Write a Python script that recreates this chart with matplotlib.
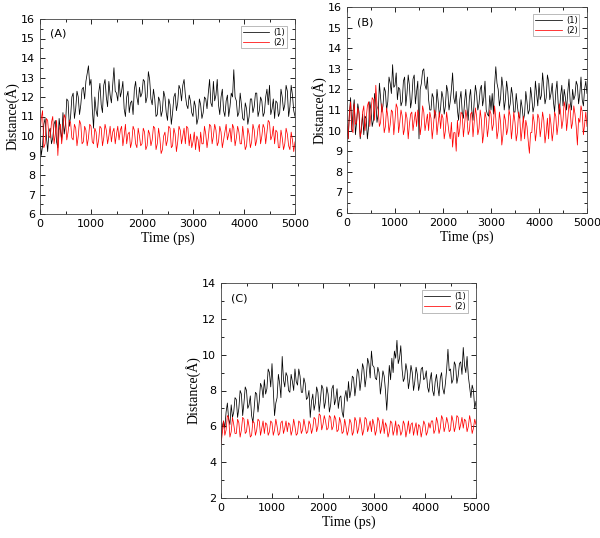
import numpy as np
import matplotlib
matplotlib.use("Agg")
import matplotlib.pyplot as plt
from matplotlib.ticker import MultipleLocator

# readings every 50 ps, plus a second set read half way between them
time_ps = np.arange(0, 5001, 50)
time_mid = np.arange(25, 5000, 50)

# panel (A)
a_1 = [10.0, 9.5, 10.9, 9.2, 10.4, 9.9, 10.8, 9.4, 10.3, 11.2,
       10.6, 11.8, 11.0, 12.2, 11.4, 12.0, 11.6, 12.5, 12.8, 13.6,
       12.9, 10.4, 11.3, 12.2, 11.6, 12.6, 12.0, 12.8, 11.7, 13.5,
       12.2, 12.9, 12.3, 11.4, 12.0, 11.2, 11.8, 12.4, 12.0, 12.5,
       12.2, 12.8, 12.0, 12.9, 11.6, 11.9, 11.1, 11.8, 11.3, 12.0,
       10.8, 11.6, 11.2, 12.2, 11.7, 12.4, 12.6, 12.1, 11.4, 11.8,
       11.0, 11.5, 10.9, 11.6, 11.2, 11.9, 12.2, 11.7, 12.8, 12.1,
       11.6, 12.0, 11.3, 11.8, 11.0, 12.2, 13.4, 11.8, 11.2, 11.6,
       10.8, 11.4, 11.0, 11.9, 11.5, 12.2, 11.3, 11.8, 11.2, 12.4,
       12.6, 11.4, 10.9, 11.7, 11.2, 12.0, 11.6, 12.3, 11.5, 12.1,
       11.0]
a_1_mid = [9.0, 10.6, 10.0, 10.2, 9.6, 10.6, 9.7, 10.9, 9.8, 10.1,
           11.9, 10.5, 12.0, 10.9, 12.3, 11.1, 12.4, 11.9, 13.2, 12.6,
           11.4, 12.0, 11.0, 12.7, 11.2, 12.9, 11.5, 12.1, 12.6, 12.3,
           11.8, 12.0, 12.8, 11.0, 12.3, 11.7, 11.1, 12.8, 11.6, 12.0,
           12.9, 11.7, 13.3, 11.9, 12.4, 11.0, 12.0, 11.0, 12.3, 11.2,
           11.9, 10.6, 12.0, 11.3, 12.6, 11.8, 12.9, 11.6, 12.1, 11.2,
           11.8, 10.6, 11.9, 10.9, 12.0, 11.4, 12.9, 11.5, 11.8, 12.9,
           11.1, 12.4, 11.0, 12.1, 11.5, 12.0, 12.0, 11.0, 12.2, 10.9,
           11.7, 10.6, 11.9, 11.2, 12.2, 11.0, 12.0, 11.0, 12.0, 11.6,
           11.1, 11.9, 11.8, 11.0, 12.4, 11.3, 12.6, 11.0, 12.6, 11.3]
a_2 = [10.2, 11.3, 9.6, 10.8, 9.9, 11.0, 10.1, 9.0, 10.6, 10.3,
       10.9, 10.2, 10.7, 9.8, 10.4, 10.0, 10.6, 9.7, 10.3, 9.9,
       10.5, 9.6, 10.2, 9.8, 10.4, 9.9, 10.3, 10.0, 9.7, 10.4,
       10.1, 9.8, 10.5, 10.0, 9.6, 10.2, 9.7, 10.3, 9.4, 10.0,
       9.6, 10.2, 9.5, 10.1, 9.8, 10.4, 9.6, 9.9, 9.3, 10.2,
       9.8, 10.4, 9.5, 10.1, 9.7, 10.3, 10.0, 9.6, 10.4, 10.1,
       9.7, 9.3, 9.8, 10.2, 9.6, 10.1, 9.9, 10.5, 10.0, 10.3,
       9.7, 10.2, 9.8, 10.6, 10.1, 9.7, 10.4, 9.9, 10.2, 9.6,
       9.9, 9.5, 10.1, 9.7, 10.3, 9.8, 10.6, 10.0, 10.4, 10.2,
       10.7, 10.0, 9.6, 10.2, 9.4, 9.9, 9.6, 10.1, 9.3, 9.8,
       9.7]
a_2_mid = [10.9, 9.4, 10.9, 10.0, 10.7, 9.6, 10.8, 10.3, 9.6, 11.1,
           9.8, 10.8, 9.9, 10.6, 9.5, 10.8, 9.6, 10.5, 9.5, 10.6,
           9.7, 10.4, 9.4, 10.5, 9.5, 10.6, 9.6, 10.5, 10.2, 9.6,
           10.5, 10.3, 9.5, 10.6, 10.1, 9.4, 10.5, 9.6, 10.4, 9.5,
           10.4, 9.3, 10.3, 9.5, 10.5, 9.3, 10.4, 9.1, 10.0, 9.5,
           10.5, 9.4, 10.4, 9.2, 10.5, 9.6, 10.4, 10.5, 9.5, 9.4,
           10.2, 10.0, 9.2, 9.6, 10.5, 9.4, 10.6, 9.6, 10.6, 9.5,
           10.5, 9.4, 10.2, 9.8, 10.4, 10.6, 9.5, 10.5, 9.6, 10.5,
           9.3, 10.4, 9.4, 10.6, 9.5, 10.4, 9.6, 10.6, 9.6, 10.8,
           9.8, 10.5, 10.3, 9.4, 10.3, 9.3, 10.4, 9.5, 10.2, 9.2]

# panel (B)
b_1 = [10.2, 10.8, 10.0, 11.5, 10.4, 10.9, 10.1, 9.8, 10.6, 10.2,
       11.0, 10.5, 11.4, 10.8, 11.6, 11.2, 11.9, 11.4, 12.3, 13.2,
       12.2, 11.5, 12.0, 11.4, 12.6, 11.8, 12.2, 11.5, 12.7, 11.9,
       9.6, 12.3, 13.0, 12.0, 11.5, 11.0, 11.6, 10.9, 11.4, 11.1,
       11.6, 11.2, 11.9, 11.4, 12.8, 11.3, 11.0, 11.5, 10.9, 11.4,
       11.1, 11.6, 11.0, 11.4, 11.8, 11.3, 12.2, 11.6, 11.0, 10.7,
       11.0, 10.8, 13.1, 12.0, 11.6, 12.1, 11.5, 11.9, 11.3, 11.7,
       10.9, 11.2, 10.6, 11.1, 10.8, 11.4, 11.0, 11.6, 11.2, 11.8,
       12.3, 11.7, 12.1, 11.6, 12.4, 11.8, 11.4, 11.9, 11.3, 11.7,
       11.2, 11.6, 11.9, 11.4, 12.0, 11.7, 12.2, 11.8, 11.5, 12.0,
       11.8]
b_1_mid = [9.6, 11.6, 10.9, 9.8, 11.3, 9.6, 10.8, 10.7, 9.6, 11.4,
           10.2, 11.8, 10.4, 12.3, 10.9, 12.1, 11.0, 12.6, 11.8, 12.1,
           12.8, 12.1, 11.2, 12.4, 11.2, 12.7, 11.1, 12.5, 11.3, 12.4,
           12.0, 12.9, 12.2, 12.6, 11.0, 11.8, 10.6, 12.0, 10.7, 11.9,
           10.8, 12.2, 11.0, 12.0, 11.6, 11.9, 10.5, 11.9, 10.6, 12.0,
           10.5, 12.0, 10.5, 12.2, 11.0, 12.0, 11.2, 12.4, 10.8, 11.7,
           11.8, 12.2, 12.3, 11.2, 12.6, 11.0, 12.4, 11.0, 12.1, 10.9,
           11.8, 10.7, 11.5, 10.5, 11.9, 10.8, 12.1, 10.9, 12.4, 11.2,
           11.5, 12.8, 11.3, 12.7, 11.5, 12.3, 10.9, 12.4, 10.8, 12.2,
           12.0, 11.0, 12.5, 11.0, 11.5, 12.4, 11.3, 12.6, 11.2, 12.4]
b_2 = [10.3, 10.9, 10.1, 11.3, 10.4, 10.8, 10.0, 11.2, 10.6, 11.4,
       10.9, 11.5, 12.2, 11.0, 10.4, 10.8, 10.2, 10.7, 10.3, 10.9,
       10.5, 11.1, 10.4, 10.7, 10.1, 10.6, 10.3, 10.9, 10.5, 10.2,
       10.7, 10.3, 10.9, 10.4, 10.0, 10.6, 10.2, 10.8, 10.4, 10.1,
       10.6, 10.0, 10.4, 9.6, 9.2, 9.9, 10.5, 10.1, 10.8, 10.3,
       10.6, 10.0, 10.9, 10.4, 10.7, 10.1, 10.5, 9.9, 10.6, 10.2,
       10.8, 10.3, 10.6, 10.0, 10.4, 9.8, 10.5, 10.1, 10.7, 10.2,
       10.4, 9.9, 10.6, 10.1, 9.6, 10.2, 8.9, 9.9, 10.4, 10.0,
       10.6, 10.2, 10.5, 9.9, 9.6, 10.3, 10.0, 10.7, 10.3, 10.9,
       10.5, 11.1, 10.6, 11.0, 10.4, 10.8, 9.3, 10.4, 10.9, 10.3,
       10.2]
b_2_mid = [9.6, 11.4, 9.9, 10.3, 11.1, 9.7, 10.9, 10.0, 11.2, 10.2,
           11.6, 10.5, 11.2, 10.2, 11.3, 9.9, 11.1, 9.9, 11.0, 9.8,
           11.3, 9.9, 11.0, 9.8, 10.9, 9.6, 10.8, 10.0, 10.9, 11.0,
           9.8, 11.2, 10.0, 10.8, 10.9, 9.6, 11.0, 9.8, 10.9, 10.8,
           9.6, 10.9, 9.9, 10.4, 9.9, 9.0, 9.7, 10.9, 9.7, 11.0,
           9.8, 10.8, 9.7, 11.1, 9.8, 11.0, 9.4, 10.9, 9.7, 11.0,
           10.0, 11.2, 9.6, 10.9, 9.3, 10.8, 9.8, 11.0, 9.6, 10.9,
           9.5, 10.9, 9.5, 10.7, 10.5, 9.5, 9.9, 10.8, 9.5, 10.8,
           9.7, 10.9, 9.4, 10.6, 10.8, 9.5, 10.9, 9.8, 11.3, 10.1,
           11.4, 10.0, 11.3, 10.1, 11.2, 10.2, 10.6, 11.2, 9.8, 10.9]

# panel (C)
c_1 = [5.2, 6.3, 6.8, 6.4, 7.2, 6.8, 7.5, 7.0, 7.8, 7.3,
       8.0, 7.2, 6.6, 7.0, 7.8, 7.4, 8.2, 8.6, 8.1, 9.0,
       9.5, 6.6, 7.6, 8.4, 9.9, 8.2, 8.8, 7.9, 8.5, 9.2,
       8.3, 8.8, 7.9, 8.4, 7.6, 6.5, 7.8, 7.3, 7.9, 7.5,
       8.1, 7.4, 7.8, 7.2, 8.3, 7.5, 7.0, 7.7, 6.5, 8.0,
       8.5, 8.0, 8.7, 8.3, 9.0, 8.6, 9.2, 8.8, 9.5, 10.2,
       9.3, 8.6, 9.0, 8.4, 8.8, 6.9, 9.4, 9.8, 10.2, 10.8,
       9.8, 9.2, 8.7, 9.1, 8.6, 9.0, 8.5, 8.9, 8.4, 9.3,
       8.7, 8.2, 8.6, 8.0, 8.5, 8.2, 8.7, 8.1, 8.4, 10.3,
       9.2, 8.6, 9.4, 8.8, 9.6, 10.4, 9.0, 8.8, 7.6, 8.0,
       7.4]
c_1_mid = [6.0, 5.9, 7.3, 6.1, 6.5, 7.6, 6.5, 8.0, 6.6, 8.2,
           7.0, 7.7, 6.2, 7.9, 6.8, 8.4, 7.6, 7.8, 9.2, 8.2,
           8.1, 7.3, 8.9, 7.6, 8.6, 9.0, 8.0, 8.9, 8.0, 8.5,
           9.2, 7.9, 8.7, 7.5, 8.0, 7.4, 6.9, 8.2, 6.8, 8.3,
           7.0, 8.2, 6.8, 8.1, 7.2, 8.1, 7.6, 6.8, 7.6, 7.4,
           7.6, 8.8, 7.7, 9.2, 8.0, 9.5, 8.2, 9.8, 8.7, 9.4,
           8.7, 9.3, 7.8, 9.1, 8.0, 8.2, 8.6, 9.0, 9.8, 9.5,
           10.5, 8.5, 9.5, 8.1, 9.4, 8.0, 9.3, 8.0, 9.2, 8.6,
           9.1, 7.9, 9.0, 7.7, 8.9, 7.7, 9.0, 7.8, 9.2, 9.1,
           8.4, 9.6, 8.4, 9.5, 8.9, 9.4, 9.9, 8.2, 8.3, 7.0]
c_2 = [5.0, 6.3, 5.8, 6.5, 5.7, 6.1, 5.6, 6.2, 5.8, 6.4,
       5.7, 6.0, 5.5, 6.2, 5.8, 6.3, 5.9, 5.6, 6.1, 5.7,
       6.2, 5.8, 6.0, 5.6, 6.3, 5.9, 5.7, 6.1, 5.8, 6.0,
       5.6, 6.2, 5.8, 6.0, 5.7, 6.1, 5.9, 6.4, 6.0, 6.6,
       6.1, 6.3, 5.9, 6.5, 6.0, 6.4, 5.8, 6.2, 5.7, 6.0,
       5.8, 6.2, 5.7, 6.3, 5.9, 6.1, 5.8, 6.4, 6.0, 5.7,
       6.1, 5.8, 6.3, 5.9, 5.6, 6.0, 5.7, 6.2, 5.8, 5.5,
       6.0, 5.7, 6.1, 5.8, 5.6, 6.2, 5.9, 5.5, 6.0, 5.8,
       6.1, 5.7, 5.9, 6.3, 5.8, 6.2, 5.9, 6.4, 6.0, 6.2,
       5.8, 6.3, 6.0, 6.5, 6.1, 5.9, 6.3, 6.0, 6.2, 5.9,
       6.1]
c_2_mid = [5.6, 5.5, 6.6, 5.4, 6.5, 5.6, 6.4, 5.4, 6.5, 5.6,
           6.4, 5.4, 6.3, 5.5, 6.4, 5.5, 6.3, 6.2, 5.5, 6.3,
           5.5, 6.4, 5.5, 6.2, 5.6, 6.3, 6.2, 5.5, 6.4, 5.5,
           6.3, 5.6, 6.4, 5.6, 6.3, 5.6, 6.5, 5.7, 6.7, 5.8,
           6.6, 5.8, 6.6, 5.8, 6.6, 5.7, 6.5, 5.6, 6.4, 5.5,
           6.4, 5.5, 6.5, 5.6, 6.5, 5.5, 6.5, 5.7, 6.3, 6.4,
           5.5, 6.5, 5.6, 6.4, 6.2, 5.4, 6.3, 5.5, 6.3, 6.1,
           5.5, 6.3, 5.4, 6.3, 6.1, 5.5, 6.2, 6.1, 5.4, 6.3,
           5.5, 6.2, 6.3, 5.6, 6.5, 5.6, 6.6, 5.7, 6.5, 5.7,
           6.6, 5.7, 6.6, 5.8, 6.5, 6.4, 5.7, 6.6, 5.6, 6.4]


def merge(full, mid):
    t = np.concatenate([time_ps, time_mid])
    v = np.concatenate([full, mid])
    order = np.argsort(t)
    return t[order], v[order]


panels = [
    ("(A)", (a_1, a_1_mid), (a_2, a_2_mid), (6, 16), 1, [40, 19, 295, 214]),
    ("(B)", (b_1, b_1_mid), (b_2, b_2_mid), (6, 16), 1, [347, 7, 587, 213]),
    ("(C)", (c_1, c_1_mid), (c_2, c_2_mid), (2, 14), 2, [221, 283, 476, 498]),
]

W, H = 600, 538
fig = plt.figure(figsize=(6, 5.38), dpi=100)
serif = "Liberation Serif"

for tag, s1, s2, ylim, ystep, (x0, y0, x1, y1) in panels:
    ax = fig.add_axes([x0 / W, 1 - y1 / H, (x1 - x0) / W, (y1 - y0) / H])
    t1, v1 = merge(*s1)
    t2, v2 = merge(*s2)
    ax.plot(t1, v1, color="black", lw=0.55, label="(1)")
    ax.plot(t2, v2, color="red", lw=0.55, label="(2)")
    ax.set_xlim(0, 5000)
    ax.set_ylim(*ylim)
    ax.xaxis.set_major_locator(MultipleLocator(1000))
    ax.xaxis.set_minor_locator(MultipleLocator(500))
    ax.yaxis.set_major_locator(MultipleLocator(ystep))
    ax.yaxis.set_minor_locator(MultipleLocator(ystep / 2))
    ax.tick_params(which="both", direction="in", top=True, right=True,
                   labelsize=8, width=0.6)
    ax.tick_params(which="major", length=3.5)
    ax.tick_params(which="minor", length=2)
    for sp in ax.spines.values():
        sp.set_linewidth(0.6)
        sp.set_color("#444444")
    ax.set_xlabel("Time (ps)", family=serif, fontsize=10, labelpad=2)
    ax.set_ylabel("Distance(Å)", family=serif, fontsize=10, labelpad=1)
    ax.text(0.04, 0.95, tag, transform=ax.transAxes, fontsize=8,
            va="top", ha="left")
    leg = ax.legend(loc="upper right", fontsize=6, frameon=True,
                    fancybox=False, handlelength=3.2, borderpad=0.2,
                    labelspacing=0.1, handletextpad=0.5,
                    bbox_to_anchor=(0.985, 0.985))
    leg.get_frame().set_linewidth(0.5)
    leg.get_frame().set_edgecolor("#888888")

fig.savefig("out.png", dpi=100)
